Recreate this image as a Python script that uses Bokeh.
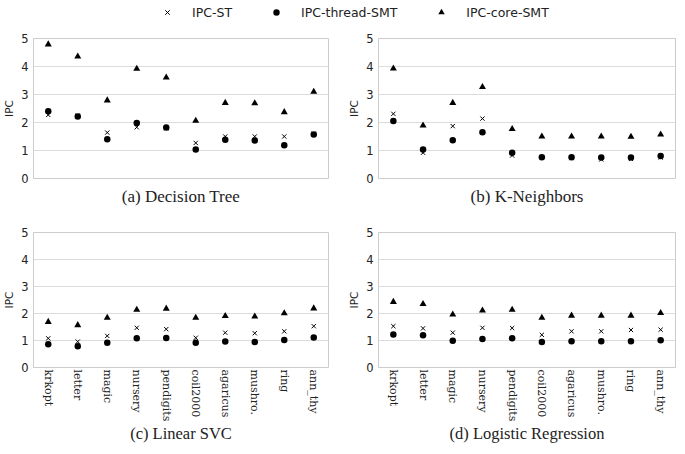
from bokeh.embed import file_html
from bokeh.layouts import column, row
from bokeh.models import ColumnDataSource, FactorRange, FixedTicker, Legend, LegendItem, Range1d, Title
from bokeh.plotting import figure
from bokeh.resources import INLINE

# datasets on the x axis (shared by all four panels)
datasets = ["krkopt", "letter", "magic", "nursery", "pendigits",
            "coil2000", "agaricus", "mushro.", "ring", "ann_thy"]

# (a) Decision Tree
dt_st = [2.27, 2.25, 1.64, 1.83, 1.79, 1.27, 1.50, 1.50, 1.50, 1.60]
dt_thread = [2.40, 2.21, 1.40, 1.98, 1.82, 1.04, 1.38, 1.36, 1.19, 1.57]
dt_core = [4.79, 4.36, 2.79, 3.92, 3.61, 2.06, 2.70, 2.69, 2.37, 3.10]

# (b) K-Neighbors
kn_st = [2.31, 0.92, 1.87, 2.14, 0.82, 0.75, 0.73, 0.68, 0.70, 0.75]
kn_thread = [2.05, 1.04, 1.37, 1.65, 0.92, 0.76, 0.76, 0.75, 0.75, 0.80]
kn_core = [3.93, 1.89, 2.70, 3.27, 1.77, 1.50, 1.50, 1.50, 1.49, 1.57]

# (c) Linear SVC
svc_st = [1.08, 0.96, 1.17, 1.47, 1.42, 1.10, 1.29, 1.27, 1.34, 1.53]
svc_thread = [0.86, 0.79, 0.92, 1.08, 1.09, 0.92, 0.96, 0.94, 1.02, 1.11]
svc_core = [1.69, 1.57, 1.84, 2.14, 2.18, 1.84, 1.91, 1.89, 2.01, 2.19]

# (d) Logistic Regression
lr_st = [1.53, 1.45, 1.29, 1.47, 1.46, 1.21, 1.34, 1.34, 1.39, 1.40]
lr_thread = [1.22, 1.19, 0.99, 1.06, 1.08, 0.94, 0.97, 0.97, 0.97, 1.01]
lr_core = [2.43, 2.35, 1.96, 2.11, 2.14, 1.84, 1.92, 1.92, 1.92, 2.02]

y_ticks = [0, 1, 2, 3, 4, 5]

INK = "#222222"
GRID = "#dcdcdc"
CAPTION_FONT = "Liberation Serif"


def add_marks(p, src, x, st, thread, core):
    r1 = p.scatter(x, st, source=src, marker="x", size=6, line_color="black", line_width=1)
    r2 = p.scatter(x, thread, source=src, marker="circle", size=6.5, fill_color="black", line_color=None)
    r3 = p.scatter(x, core, source=src, marker="triangle", size=7, fill_color="black", line_color=None)
    return r1, r2, r3


def no_ticks(ax):
    ax.axis_line_color = None
    ax.major_tick_line_color = None
    ax.minor_tick_line_color = None
    ax.major_tick_out = 0
    ax.major_tick_in = 0
    ax.minor_tick_out = 0
    ax.minor_tick_in = 0


def panel(caption, st, thread, core, width, height, left, right, top, bottom, bottom_row):
    p = figure(
        width=width, height=height,
        x_range=FactorRange(factors=datasets, range_padding=0),
        y_range=Range1d(0, 5),
        output_backend="svg", toolbar_location=None,
        min_border_left=left, min_border_right=right,
        min_border_top=top, min_border_bottom=bottom,
    )
    src = ColumnDataSource(data={"name": datasets, "st": st, "thread": thread, "core": core})
    add_marks(p, src, "name", "st", "thread", "core")

    p.outline_line_color = "#cccccc"
    p.xgrid.visible = False
    p.ygrid.grid_line_color = GRID

    ya = p.yaxis[0]
    no_ticks(ya)
    ya.ticker = FixedTicker(ticks=y_ticks)
    ya.major_label_text_font = "DejaVu Sans"
    ya.major_label_text_font_size = "11.5px"
    ya.major_label_text_color = INK
    ya.major_label_standoff = 5
    ya.axis_label = "IPC"
    ya.axis_label_text_font = "DejaVu Sans"
    ya.axis_label_text_font_size = "10.5px"
    ya.axis_label_text_font_style = "normal"
    ya.axis_label_text_color = INK
    ya.axis_label_standoff = 3

    if bottom_row:
        ax = p.xaxis[0]
        no_ticks(ax)
        ax.major_label_orientation = "vertical"
        ax.major_label_standoff = 2
        ax.major_label_text_font = "DejaVu Serif"
        ax.major_label_text_font_size = "11px"
        ax.major_label_text_color = INK
        ax.axis_label = caption
        ax.axis_label_text_font = CAPTION_FONT
        ax.axis_label_text_font_size = "16.5px"
        ax.axis_label_text_font_style = "normal"
        ax.axis_label_text_color = INK
        ax.axis_label_standoff = 0
    else:
        p.xaxis.visible = False
        p.add_layout(Title(text=caption, align="center", text_font=CAPTION_FONT,
                           text_font_size="17px", text_font_style="normal",
                           text_color=INK, standoff=12), "below")
    return p


pa = panel("(a) Decision Tree", dt_st, dt_thread, dt_core, 340, 198, 24, 12, 14, 44, False)
pb = panel("(b) K-Neighbors", kn_st, kn_thread, kn_core, 337, 198, 38, 2, 14, 44, False)
pc = panel("(c) Linear SVC", svc_st, svc_thread, svc_core, 340, 224, 24, 12, 10, 73, True)
pd = panel("(d) Logistic Regression", lr_st, lr_thread, lr_core, 337, 224, 38, 2, 10, 73, True)

# shared legend strip on top
leg = figure(width=677, height=24, x_range=Range1d(0, 1), y_range=Range1d(0, 1),
             output_backend="svg", toolbar_location=None,
             min_border_left=0, min_border_right=0, min_border_top=0, min_border_bottom=0)
leg.axis.visible = False
leg.grid.visible = False
leg.outline_line_color = None
# off-screen sample point so the legend glyphs have something to draw
hidden = ColumnDataSource(data={"x": [-5], "st": [-5], "thread": [-5], "core": [-5]})
r_st, r_th, r_co = add_marks(leg, hidden, "x", "st", "thread", "core")
legend = Legend(
    items=[LegendItem(label="IPC-ST", renderers=[r_st]),
           LegendItem(label="IPC-thread-SMT", renderers=[r_th]),
           LegendItem(label="IPC-core-SMT", renderers=[r_co])],
    orientation="horizontal", location=(157, 4),
    glyph_width=20, glyph_height=16, label_standoff=15, spacing=34,
    padding=0, margin=0, border_line_color=None, background_fill_alpha=0,
    label_text_font="DejaVu Sans", label_text_font_size="12.5px", label_text_color=INK,
)
leg.add_layout(legend)

layout = column(leg, row(pa, pb), row(pc, pd))

open("out.html", "w").write(file_html(layout, INLINE))
